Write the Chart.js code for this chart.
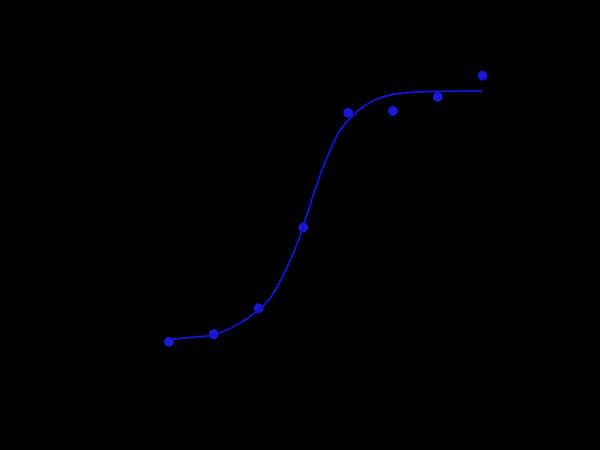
<!DOCTYPE html>
<html>
<head>
<meta charset="utf-8">
<style>
  html, body { margin: 0; padding: 0; background: #000; }
  #wrap { width: 600px; height: 450px; position: relative; background: #000; }
</style>
<script src="https://cdn.jsdelivr.net/npm/chart.js@4"></script>
</head>
<body>
<div id="wrap"><canvas id="c" width="600" height="450"></canvas></div>
<script>
// measured points
const pointX = [1, 2, 3, 4, 5, 6, 7, 8];
const pointY = [0.483, 0.557, 0.817, 1.625, 2.773, 2.79, 2.933, 3.143];
// fitted curve
const curveX = [1.0, 1.543, 2.011, 2.511, 2.994, 3.293, 3.628, 3.851, 3.998, 4.186, 4.445, 4.780, 5.079, 5.450, 5.934, 6.678, 8.0];
const curveY = [0.507, 0.527, 0.553, 0.65, 0.80, 0.94, 1.22, 1.45, 1.64, 1.90, 2.233, 2.567, 2.733, 2.867, 2.95, 2.983, 2.99];

const points = pointX.map((x, i) => ({ x: x, y: pointY[i] }));
const curve = curveX.map((x, i) => ({ x: x, y: curveY[i] }));

new Chart(document.getElementById('c'), {
  type: 'scatter',
  data: {
    datasets: [
      {
        label: 'fit',
        data: curve,
        showLine: true,
        borderColor: '#1414c4',
        borderWidth: 2,
        pointRadius: 0,
        cubicInterpolationMode: 'monotone',
        fill: false
      },
      {
        label: 'data',
        data: points,
        showLine: false,
        pointStyle: 'circle',
        pointRadius: 4.5,
        backgroundColor: '#1a1ad6',
        borderColor: '#1a1ad6',
        borderWidth: 1
      }
    ]
  },
  options: {
    responsive: false,
    animation: false,
    layout: { padding: { left: 146.6, right: 95.1, top: 40, bottom: 60 } },
    plugins: { legend: { display: false }, tooltip: { enabled: false } },
    scales: {
      x: { type: 'linear', min: 0.5, max: 8.5, display: false },
      y: { type: 'linear', min: 0, max: 3.5, display: false }
    }
  }
});
</script>
</body>
</html>
